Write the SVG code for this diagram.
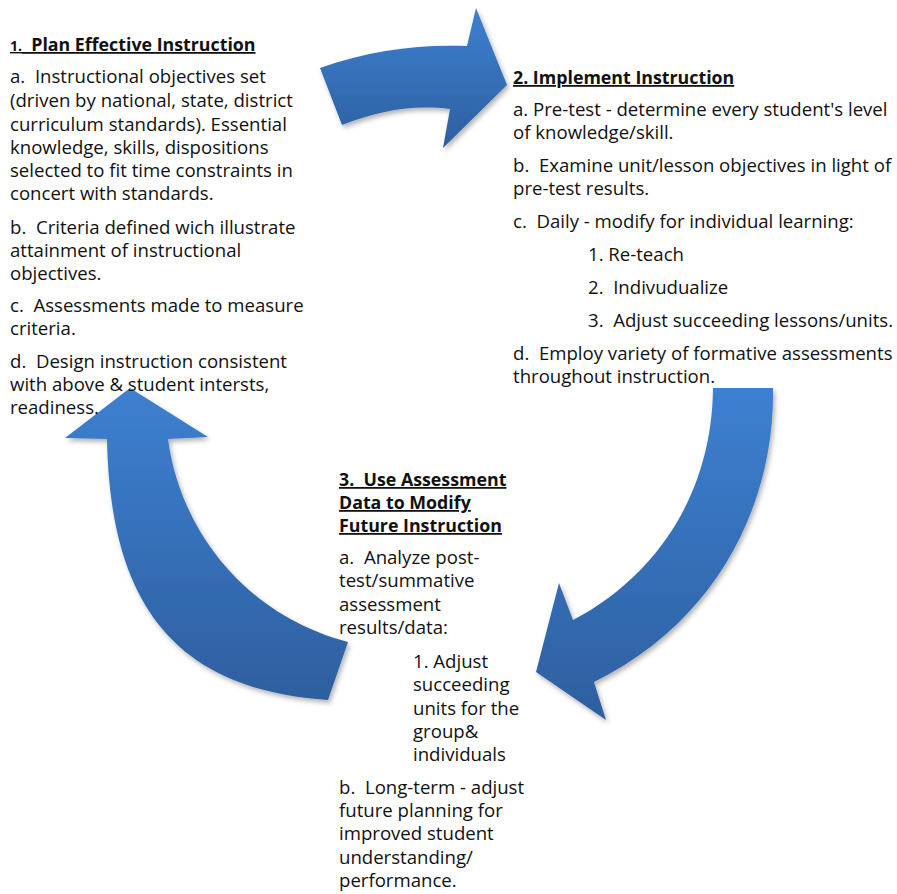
<svg xmlns="http://www.w3.org/2000/svg" width="897" height="894" viewBox="0 0 897 894">
  <style>
    text { font-family: "Open Sans", "Liberation Sans", sans-serif; font-size: 18.6px; fill: #111; white-space: pre; }
    .head { font-size: 17.8px; font-weight: bold; text-decoration: underline; }
    .small { font-size: 14px; }
    .arrow { fill: url(#blueFill); filter: url(#softShadow); }
  </style>
  <defs>
    <linearGradient id="blueFill" x1="0" y1="0" x2="0" y2="1">
      <stop offset="0" stop-color="#3d80d1"/>
      <stop offset="1" stop-color="#2e5f9f"/>
    </linearGradient>
    <filter id="softShadow" x="-20%" y="-20%" width="140%" height="140%">
      <feDropShadow dx="2" dy="3" stdDeviation="2.5" flood-color="#000" flood-opacity="0.3"/>
    </filter>
  </defs>

  <!-- curved cycle arrows -->
  <g id="connectors">
    <path id="arrow-1-2" class="arrow" d="M320,68 C370,50 420,44 467,46 L476,8 L507,85 L443,148 L450,109 C410,104 375,112 342,125 Z"/>
    <path id="arrow-2-3" class="arrow" d="M713,388 L773,388 C775,500 720,620 594,682 L606,720 L536,672 L559,583 L573,620 C650,580 712,500 713,388 Z"/>
    <path id="arrow-3-1" class="arrow" d="M348,642 C245,615 180,530 168,439 L208,437 L130,388 L65,438 L107,439 C110,610 180,690 328,700 Z"/>
  </g>

  <g id="node-plan">
    <text x="10" y="51" class="head"><tspan class="small">1.</tspan>  Plan Effective Instruction</text>
    <text x="10" y="83">a.  Instructional objectives set</text>
    <text x="10" y="107">(driven by national, state, district</text>
    <text x="10" y="131">curriculum standards). Essential</text>
    <text x="10" y="154">knowledge, skills, dispositions</text>
    <text x="10" y="177">selected to fit time constraints in</text>
    <text x="10" y="200">concert with standards.</text>
    <text x="10" y="234">b.  Criteria defined wich illustrate</text>
    <text x="10" y="257">attainment of instructional</text>
    <text x="10" y="280">objectives.</text>
    <text x="10" y="312">c.  Assessments made to measure</text>
    <text x="10" y="335">criteria.</text>
    <text x="10" y="368">d.  Design instruction consistent</text>
    <text x="10" y="391">with above &amp; student intersts,</text>
    <text x="10" y="414">readiness.</text>
  </g>

  <g id="node-implement">
    <text x="513" y="84" class="head">2. Implement Instruction</text>
    <text x="513" y="116">a. Pre-test - determine every student's level</text>
    <text x="513" y="139">of knowledge/skill.</text>
    <text x="513" y="172">b.  Examine unit/lesson objectives in light of</text>
    <text x="513" y="195">pre-test results.</text>
    <text x="513" y="228">c.  Daily - modify for individual learning:</text>
    <text x="588" y="261">1. Re-teach</text>
    <text x="588" y="294">2.  Indivudualize</text>
    <text x="588" y="327">3.  Adjust succeeding lessons/units.</text>
    <text x="513" y="360">d.  Employ variety of formative assessments</text>
    <text x="513" y="383">throughout instruction.</text>
  </g>

  <g id="node-modify">
    <text x="339" y="486" class="head">3.  Use Assessment</text>
    <text x="339" y="509" class="head">Data to Modify</text>
    <text x="339" y="532" class="head">Future Instruction</text>
    <text x="339" y="564">a.  Analyze post-</text>
    <text x="339" y="587">test/summative</text>
    <text x="339" y="611">assessment</text>
    <text x="339" y="634">results/data:</text>
    <text x="413" y="668">1. Adjust</text>
    <text x="413" y="691">succeeding</text>
    <text x="413" y="715">units for the</text>
    <text x="413" y="738">group&amp;</text>
    <text x="413" y="761">individuals</text>
    <text x="339" y="794">b.  Long-term - adjust</text>
    <text x="339" y="817">future planning for</text>
    <text x="339" y="840">improved student</text>
    <text x="339" y="864">understanding/</text>
    <text x="339" y="887">performance.</text>
  </g>
</svg>
